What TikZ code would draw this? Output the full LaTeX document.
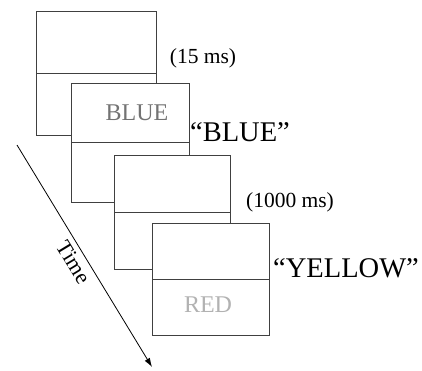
\documentclass[tikz,border=0pt]{standalone}
\usepackage{fontspec}
\setmainfont{Liberation Serif}
\usetikzlibrary{arrows.meta}
\begin{document}
\begin{tikzpicture}[x=1pt,y=-1pt,inner sep=0pt,outer sep=0pt,
screen/.style={draw=black!75,fill=white,rectangle,line width=0.8pt},
dur/.style={font=\fontsize{21.5}{21.5}\selectfont},
said/.style={font=\fontsize{28.5}{28.5}\selectfont},
word/.style={font=\fontsize{24}{24}\selectfont}]
\useasboundingbox (0,0) rectangle (422,370);

%%% Screens, one after the other %%%%%
\node[screen,minimum width=120pt,minimum height=124pt] (S1) at (96,73) {};
\draw[black!75,line width=0.8pt] (S1.west) -- (S1.east);
\node[screen,minimum width=118pt,minimum height=119pt] (S2) at (130,142.5) {};
\draw[black!75,line width=0.8pt] (S2.west) -- (S2.east);
\node[screen,minimum width=116pt,minimum height=114pt] (S3) at (172,212) {};
\draw[black!75,line width=0.8pt] (S3.west) -- (S3.east);
\node[screen,minimum width=117pt,minimum height=112pt] (S4) at (210.5,279) {};
\draw[black!75,line width=0.8pt] (S4.west) -- (S4.east);

	%%% Words on the screens
	\node[word,text=black!55] (blue) at (137,113) {BLUE};
	\node[word,text=black!30] (red) at (208,305) {RED};

%%% Labels on the right
\node[dur] (d1) at (203,58) {(15 ms)};
\node[said] (r1) at (240,132) {“BLUE”};
\node[dur] (d2) at (290,202) {(1000 ms)};
\node[said] (r2) at (346,268) {“YELLOW”};

%%% Time axis
\coordinate (t0) at (17,145);
\coordinate (t1) at (152,367);
\draw[-{Latex[length=9pt,width=6pt]},line width=0.8pt] (t0) -- (t1)
	node[midway,sloped,below=5pt,font=\fontsize{22}{22}\selectfont] (time) {Time};

\end{tikzpicture}
\end{document}
